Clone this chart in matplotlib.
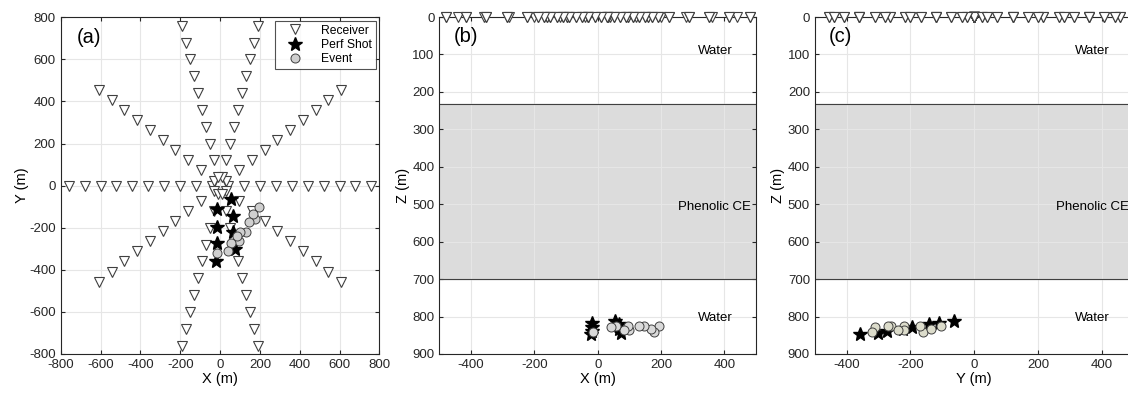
import numpy as np
import matplotlib
matplotlib.use("Agg")
import matplotlib.pyplot as plt

plt.rcParams.update({"font.family": ["Liberation Sans", "DejaVu Sans"], "font.size": 9.5,
                     "axes.unicode_minus": False,
                     "axes.edgecolor": "#262626", "xtick.color": "#262626", "ytick.color": "#262626",
                     "xtick.direction": "in", "ytick.direction": "in",
                     "xtick.top": True, "ytick.right": True,
                     "xtick.major.size": 3, "ytick.major.size": 3,
                     "xtick.labelsize": 9.5, "ytick.labelsize": 9.5})

# receiver stations: signed offset along each arm, and arm direction (dx, dy per unit offset)
rec_offsets = [-760, -680, -600, -520, -440, -360, -280, -200, -120, -40,
               40, 120, 200, 280, 360, 440, 520, 600, 680, 760]
arm_dx = [1.0, 0.8, -0.8, 0.25, -0.25]
arm_dy = [0.0, 0.6, 0.6, 1.0, 1.0]
rec_z = 0.0

# perforation shots
pf_x = [54, -17, 67, -17, 67, -17, 75, -20]
pf_y = [-63, -112, -143, -195, -222, -274, -303, -357]
pf_z = [812, 816, 821, 828, 832, 839, 843, 847]

# located events
ev_x = [194, 177, 167, 147, 129, 100, 97, 84, 57, 42, -14]
ev_y = [-103, -160, -135, -171, -219, -219, -261, -238, -271, -311, -322]
ev_z = [824, 841, 832, 826, 824, 837, 824, 835, 826, 828, 841]

# layer model
layer_top, layer_bot = 233, 700
layer_names = ["Water", "Phenolic CE", "Water"]
layer_label_z = [92, 508, 805]

rec_x = np.array([o * dx for dx in arm_dx for o in rec_offsets])
rec_y = np.array([o * dy for dy in arm_dy for o in rec_offsets])

W, H = 1128, 396
fig = plt.figure(figsize=(W / 100, H / 100), dpi=100)
ax_a = fig.add_axes([60.7 / W, 1 - 354 / H, 318.7 / W, 336.7 / H])
ax_b = fig.add_axes([439.4 / W, 1 - 354 / H, 316.6 / W, 337 / H])
ax_c = fig.add_axes([814.8 / W, 1 - 354 / H, 319.0 / W, 337 / H])

tri = dict(marker="v", ms=7.5, mfc="white", mec="#404040", mew=0.8, ls="none")
star = dict(marker="*", ms=10, mfc="black", mec="black", ls="none")
circ = dict(marker="o", ms=6.5, mec="#404040", mew=0.7, ls="none")

# (a) plan view
ax = ax_a
ax.plot(rec_x, rec_y, **tri, label="Receiver")
ax.plot(pf_x, pf_y, **star, label="Perf Shot")
ax.plot(ev_x, ev_y, **circ, mfc="#cfcfcf", label="Event")
ax.set_xlim(-800, 800); ax.set_ylim(-800, 800)
ax.set_xticks(range(-800, 801, 200)); ax.set_yticks(range(-800, 801, 200))
ax.set_xlabel("X (m)", fontsize=10.5, labelpad=1); ax.set_ylabel("Y (m)", fontsize=10.5, labelpad=0)
ax.text(-720, 705, "(a)", fontsize=14.5, va="center")
leg = ax.legend(loc="upper right", fontsize=8.7, handletextpad=0.9, borderaxespad=0.3,
                fancybox=False, edgecolor="#262626", labelspacing=0.2, borderpad=0.3,
                handlelength=2.6)
leg.get_frame().set_linewidth(0.8)


def depth_panel(ax, h, rec_h, pf_h, ev_h, ev_fc, tag, xlabel):
    ax.axhspan(layer_top, layer_bot, color="#dcdcdc", zorder=0)
    ax.axhline(layer_top, color="#404040", lw=0.8, zorder=1)
    ax.axhline(layer_bot, color="#404040", lw=0.8, zorder=1)
    keep = np.abs(rec_h) <= 500
    ax.plot(rec_h[keep], np.full(keep.sum(), rec_z), **tri, clip_on=False, zorder=5)
    ax.plot(pf_h, h, **star, zorder=4)
    ax.plot(ev_h, ev_z, **circ, mfc=ev_fc, zorder=4)
    ax.set_xlim(-500, 500); ax.set_ylim(900, 0)
    ax.set_xticks(range(-400, 401, 200)); ax.set_yticks(range(0, 901, 100))
    ax.set_xlabel(xlabel, fontsize=10.5, labelpad=1); ax.set_ylabel("Z (m)", fontsize=10.5, labelpad=2)
    ax.text(-455, 52, tag, fontsize=14.5, va="center")
    for name, z in zip(layer_names, layer_label_z):
        ax.text(370, z, name, ha="center", va="center", fontsize=9.5, zorder=3)


depth_panel(ax_b, pf_z, rec_x, pf_x, ev_x, "#d9d9d9", "(b)", "X (m)")
depth_panel(ax_c, pf_z, rec_y, pf_y, ev_y, "#dcdccb", "(c)", "Y (m)")

for ax in (ax_a, ax_b, ax_c):
    ax.grid(True, color="#e6e6e6", lw=0.8)
    ax.set_axisbelow(True)
    for s in ax.spines.values():
        s.set_linewidth(0.8)

fig.savefig("out.png", dpi=100)
